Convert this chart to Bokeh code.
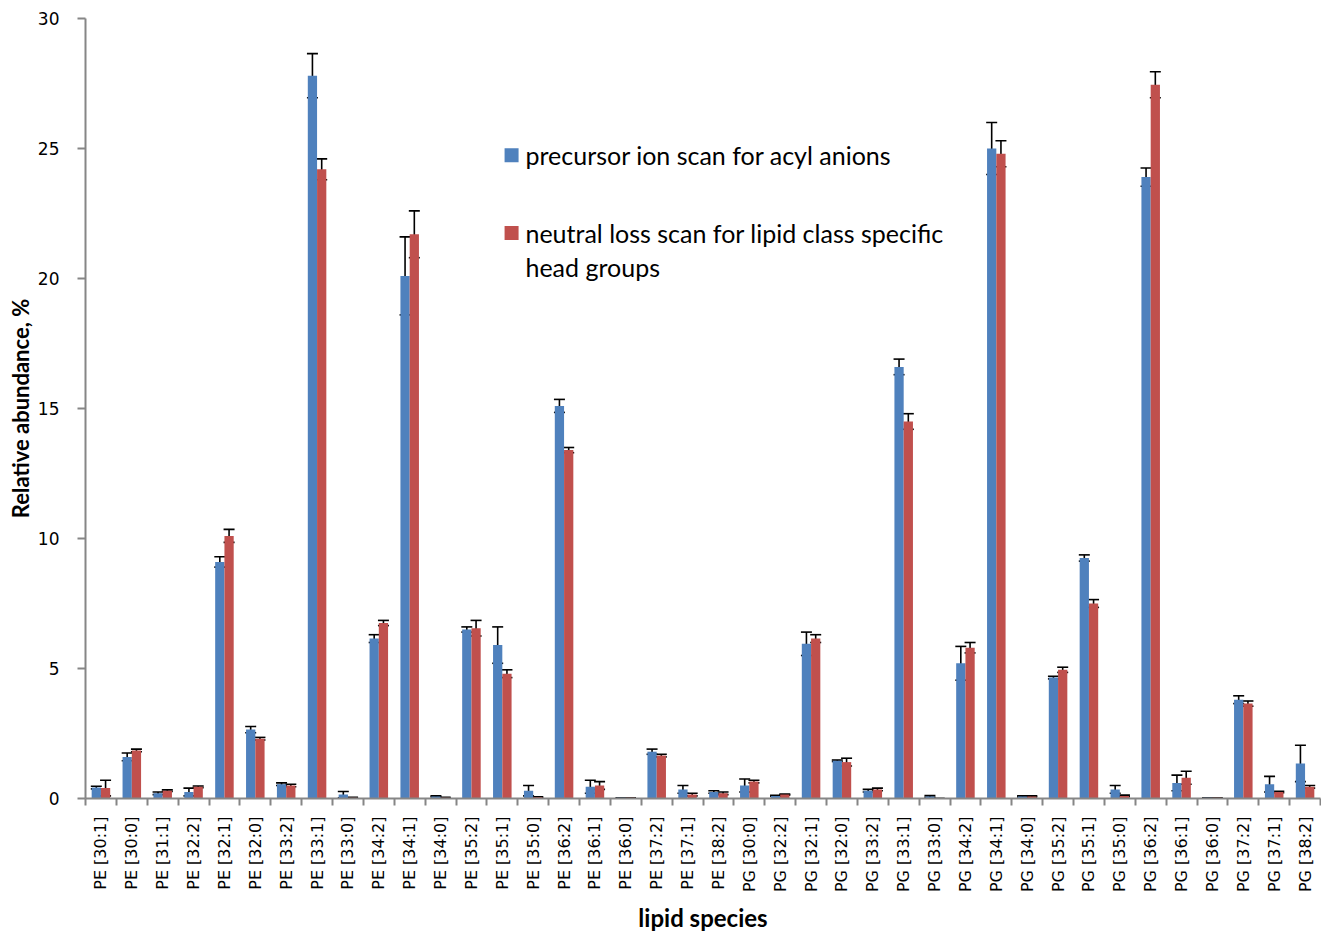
import numpy as np
from bokeh.plotting import figure
from bokeh.models import ColumnDataSource, Whisker, FixedTicker, Range1d, TeeHead
from bokeh.core.properties import value
from bokeh.embed import file_html
from bokeh.resources import INLINE

categories = [
    "PE [30:1]", "PE [30:0]", "PE [31:1]", "PE [32:2]", "PE [32:1]", "PE [32:0]",
    "PE [33:2]", "PE [33:1]", "PE [33:0]", "PE [34:2]", "PE [34:1]", "PE [34:0]",
    "PE [35:2]", "PE [35:1]", "PE [35:0]", "PE [36:2]", "PE [36:1]", "PE [36:0]",
    "PE [37:2]", "PE [37:1]", "PE [38:2]",
    "PG [30:0]", "PG [32:2]", "PG [32:1]", "PG [32:0]", "PG [33:2]", "PG [33:1]",
    "PG [33:0]", "PG [34:2]", "PG [34:1]", "PG [34:0]", "PG [35:2]", "PG [35:1]",
    "PG [35:0]", "PG [36:2]", "PG [36:1]", "PG [36:0]", "PG [37:2]", "PG [37:1]",
    "PG [38:2]",
]

precursor = [
    0.42, 1.6, 0.2, 0.25, 9.1, 2.65, 0.55, 27.8, 0.15, 6.15, 20.1, 0.08,
    6.5, 5.9, 0.3, 15.1, 0.45, 0.03, 1.8, 0.35, 0.25,
    0.5, 0.1, 5.95, 1.45, 0.3, 16.6, 0.08, 5.2, 25.0, 0.08, 4.65, 9.25,
    0.35, 23.9, 0.6, 0.03, 3.8, 0.55, 1.35,
]
precursor_err = [
    0.05, 0.15, 0.05, 0.15, 0.2, 0.12, 0.05, 0.85, 0.12, 0.15, 1.5, 0.02,
    0.1, 0.7, 0.2, 0.25, 0.25, 0.0, 0.1, 0.15, 0.05,
    0.25, 0.02, 0.45, 0.03, 0.05, 0.3, 0.03, 0.65, 1.0, 0.02, 0.05, 0.12,
    0.15, 0.35, 0.3, 0.0, 0.15, 0.3, 0.7,
]
neutral_loss = [
    0.4, 1.85, 0.3, 0.45, 10.1, 2.3, 0.5, 24.2, 0.03, 6.75, 21.7, 0.03,
    6.55, 4.8, 0.05, 13.4, 0.5, 0.03, 1.65, 0.15, 0.2,
    0.65, 0.15, 6.15, 1.4, 0.35, 14.5, 0.0, 5.8, 24.8, 0.08, 4.95, 7.5,
    0.1, 27.45, 0.8, 0.03, 3.65, 0.25, 0.45,
]
neutral_loss_err = [
    0.3, 0.05, 0.03, 0.03, 0.25, 0.05, 0.05, 0.4, 0.02, 0.1, 0.9, 0.02,
    0.3, 0.15, 0.02, 0.1, 0.15, 0.0, 0.05, 0.05, 0.05,
    0.05, 0.02, 0.15, 0.15, 0.05, 0.3, 0.0, 0.2, 0.5, 0.02, 0.1, 0.15,
    0.03, 0.5, 0.25, 0.0, 0.1, 0.03, 0.05,
]

legend_labels = ["precursor ion scan for acyl anions",
                 "neutral loss scan for lipid class specific\nhead groups"]

BLUE = "#4F81BD"
RED = "#C0504D"
AXIS = "#868686"

n = len(categories)
centers = np.arange(n) + 0.5
off = 0.15
bw = 0.3

pre = np.array(precursor)
pre_e = np.array(precursor_err)
nl = np.array(neutral_loss)
nl_e = np.array(neutral_loss_err)

src_b = ColumnDataSource(dict(x=centers - off, top=pre, up=pre + pre_e, lo=np.maximum(pre - pre_e, 0)))
src_r = ColumnDataSource(dict(x=centers + off, top=nl, up=nl + nl_e, lo=np.maximum(nl - nl_e, 0)))

p = figure(width=1321, height=935, output_backend="svg", toolbar_location=None,
           x_range=Range1d(0, n), y_range=Range1d(0, 30),
           min_border_left=85, min_border_right=1, min_border_top=18, min_border_bottom=135)
p.outline_line_color = None
p.grid.visible = False
p.background_fill_color = "white"
p.border_fill_color = "white"

p.vbar(x="x", top="top", width=bw, bottom=0, source=src_b, color=BLUE, line_color=None)
p.vbar(x="x", top="top", width=bw, bottom=0, source=src_r, color=RED, line_color=None)

for src in (src_b, src_r):
    w = Whisker(base="x", upper="up", lower="lo", source=src, line_color="black", line_width=1.6,
                upper_head=TeeHead(size=11, line_color="black", line_width=1.6),
                lower_head=TeeHead(size=11, line_color="black", line_width=1.6))
    p.add_layout(w)

# x axis
xa = p.xaxis[0]
xa.ticker = FixedTicker(ticks=list(centers), minor_ticks=list(np.arange(n + 1)))
xa.major_label_overrides = {float(c): lab for c, lab in zip(centers, categories)}
xa.major_label_orientation = np.pi / 2
xa.major_tick_line_color = None
xa.minor_tick_in = 0
xa.minor_tick_out = 7
xa.minor_tick_line_color = AXIS
xa.minor_tick_line_width = 2
xa.axis_line_color = AXIS
xa.axis_line_width = 2
xa.major_label_text_font = "DejaVu Sans"
xa.major_label_text_font_size = "16px"
xa.major_label_text_color = "black"
xa.major_label_standoff = 11
xa.axis_label = "lipid species"
xa.axis_label_text_font = "Lato"
xa.axis_label_text_font_style = "bold"
xa.axis_label_text_font_size = "24px"
xa.axis_label_text_color = "black"
xa.axis_label_standoff = 8

ya = p.yaxis[0]
ya.ticker = FixedTicker(ticks=[0, 5, 10, 15, 20, 25, 30])
ya.minor_tick_line_color = None
ya.major_tick_in = 0
ya.major_tick_out = 8
ya.major_tick_line_color = AXIS
ya.major_tick_line_width = 2
ya.axis_line_color = AXIS
ya.axis_line_width = 2
ya.major_label_text_font = "DejaVu Sans"
ya.major_label_text_font_size = "17px"
ya.major_label_text_color = "black"
ya.major_label_standoff = 18
ya.axis_label = "Relative abundance, %"
ya.axis_label_text_font = "Lato"
ya.axis_label_text_font_style = "bold"
ya.axis_label_text_font_size = "22px"
ya.axis_label_text_color = "black"
ya.axis_label_standoff = 1

# legend (drawn manually)
p.rect(x=[13.8, 13.8], y=[24.74, 21.75], width=14, height=14, width_units="screen",
       height_units="screen", color=[BLUE, RED], line_color=None)
lines = [legend_labels[0]] + legend_labels[1].split("\n")
p.text(x=[14.25] * 3, y=[24.74, 21.75, 20.45], text=lines,
       text_font=value("Lato"), text_font_size="25px", text_baseline="middle",
       text_color="black")

html = file_html(p, INLINE)
open("out.html", "w").write(html)
